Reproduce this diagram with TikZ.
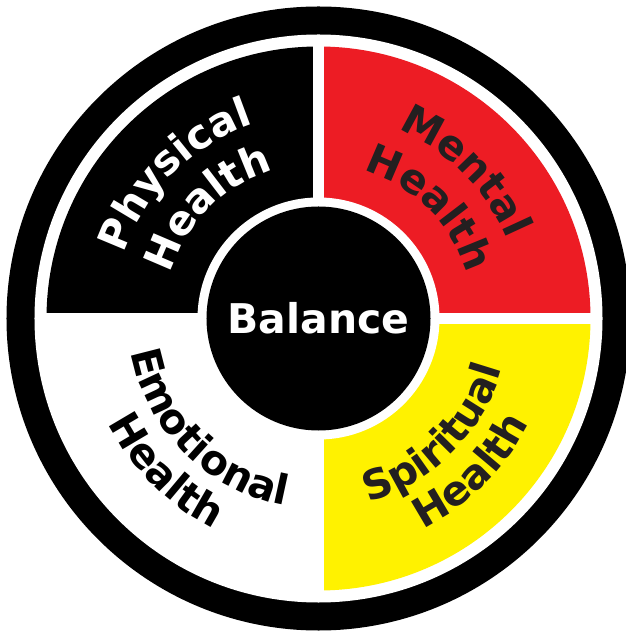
\documentclass[tikz,border=0pt]{standalone}
\usepackage{fontspec}
\usepackage{tikz}
\usetikzlibrary{decorations.text}

\newfontfamily\wheelfont{DejaVu Sans}
\newcommand{\wheeltext}{\fontsize{23.3pt}{28pt}\selectfont\wheelfont\bfseries}

\definecolor{wheelred}{HTML}{ED1C24}
\definecolor{wheelyellow}{HTML}{FFF200}
\definecolor{wheelink}{HTML}{231F20}

\begin{document}
\begin{tikzpicture}[
    x=0.2mm, y=0.2mm,
    sector/.style={fill=#1},
    gap/.style={fill=white},
    hub/.style={circle, fill=black, text=white, inner sep=0pt, minimum size=44.8mm, font=\wheeltext},
    arclabel/.style 2 args={decorate, decoration={text along path, text={|\wheeltext|#2}, text align=center, text color=#1}}
]
\useasboundingbox (-318.5,-313.5) rectangle (306.5,318.5);

% Define outer ring
\fill[black] (0,0) circle (312);
\fill[white] (0,0) circle (284);

% Define quadrants
\fill[sector=black] (0,0) -- (90:272) arc[start angle=90, end angle=180, radius=272] -- cycle;
\fill[sector=wheelred] (0,0) -- (0:272) arc[start angle=0, end angle=90, radius=272] -- cycle;
\fill[sector=wheelyellow] (0,0) -- (-90:272) arc[start angle=-90, end angle=0, radius=272] -- cycle;
\fill[gap] (-280,-5.75) rectangle (280,5.75);
\fill[gap] (-5.75,-280) rectangle (5.75,280);
\fill[gap] (0,0) circle (121);

% Define centre
\node[hub] (balance) at (0,0) {Balance};

% Define curved labels
\path[arclabel={white}{Physical}] (175:205) arc[start angle=175, end angle=95, radius=205];
\path[arclabel={white}{Health}] (175:155) arc[start angle=175, end angle=95, radius=155];
\path[arclabel={wheelink}{Mental}] (85:205) arc[start angle=85, end angle=5, radius=205];
\path[arclabel={wheelink}{Health}] (85:155) arc[start angle=85, end angle=5, radius=155];
\path[arclabel={wheelink}{Spiritual}] (-85:190) arc[start angle=-85, end angle=-5, radius=190];
\path[arclabel={wheelink}{Health}] (-85:235) arc[start angle=-85, end angle=-5, radius=235];
\path[arclabel={black}{Emotional}] (185:190) arc[start angle=185, end angle=265, radius=190];
\path[arclabel={black}{Health}] (185:235) arc[start angle=185, end angle=265, radius=235];

\end{tikzpicture}
\end{document}
